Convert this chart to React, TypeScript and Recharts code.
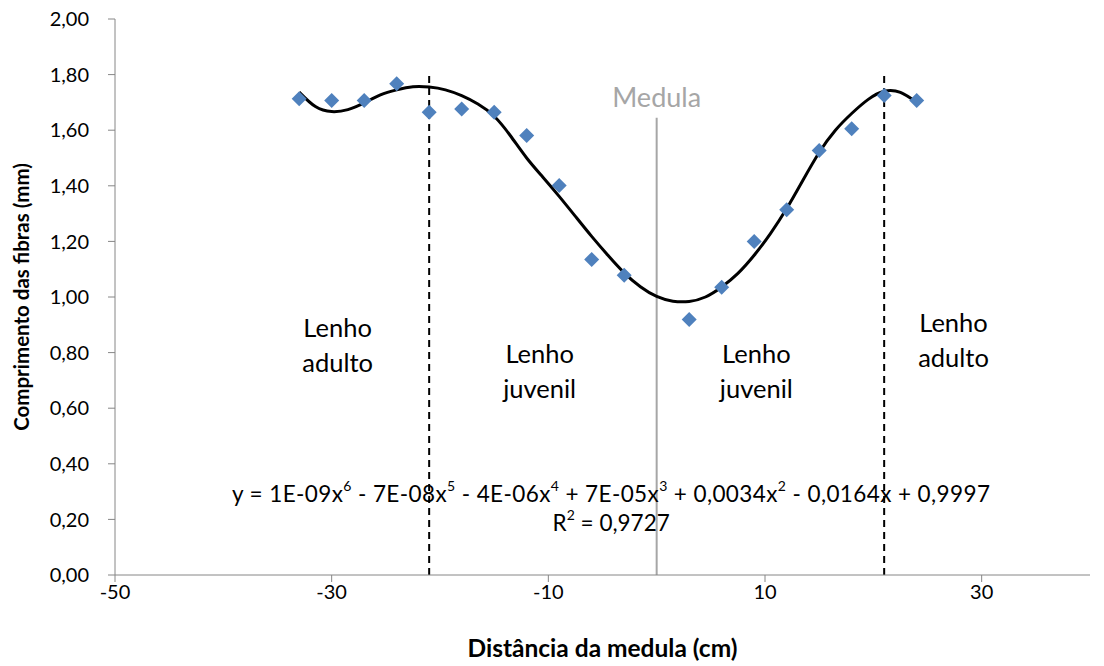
import { ComposedChart, Scatter, Line, XAxis, YAxis, ReferenceLine, ReferenceDot } from "recharts"

// distance from pith (cm) and fibre length (mm)
const distance = [-33, -30, -27, -24, -21, -18, -15, -12, -9, -6, -3, 3, 6, 9, 12, 15, 18, 21, 24]
const fiberLength = [1.713, 1.707, 1.707, 1.767, 1.665, 1.676, 1.665, 1.581, 1.401, 1.135, 1.078, 0.919, 1.035, 1.2, 1.314, 1.527, 1.605, 1.725, 1.707]

// polynomial trendline
const trendX = [-33, -31.5, -30, -28.5, -27, -25.5, -24, -22.5, -21, -19.5, -18, -16.5, -15, -13.5, -12, -10.5, -9, -7.5, -6, -4.5, -3, -1.5, 0, 1.5, 3, 4.5, 6, 7.5, 9, 10.5, 12, 13.5, 15, 16.5, 18, 19.5, 21, 22.5, 24]
const trendY = [1.737, 1.685, 1.667, 1.674, 1.698, 1.727, 1.745, 1.756, 1.755, 1.745, 1.724, 1.694, 1.65, 1.58, 1.5, 1.431, 1.362, 1.29, 1.218, 1.15, 1.087, 1.037, 1.002, 0.985, 0.984, 1.0, 1.036, 1.085, 1.15, 1.228, 1.318, 1.42, 1.52, 1.6, 1.66, 1.71, 1.74, 1.736, 1.7]

const xTicks = [-50, -30, -10, 10, 30]
const yTicks = [0, 0.2, 0.4, 0.6, 0.8, 1.0, 1.2, 1.4, 1.6, 1.8, 2.0]

const points = distance.map((x, i) => ({ x, y: fiberLength[i] }))
const trend = trendX.map((x, i) => ({ x, y: trendY[i] }))

const font = "Lato, 'Open Sans', sans-serif"
const axisColor = "#868686"
const textColor = "#000"

const Diamond = (props: any) => {
  const { cx, cy } = props
  const r = 7.5
  return <polygon points={`${cx},${cy - r} ${cx + r},${cy} ${cx},${cy + r} ${cx - r},${cy}`} fill="#4F81BD" />
}

const noteLabel = (lines: string[], size: number, gap: number) => (p: any) => {
  const vb = p.viewBox
  const cx = vb.x + vb.width / 2
  const cy = vb.y + vb.height / 2
  const start = cy - ((lines.length - 1) * gap) / 2
  return (
    <text textAnchor="middle" fontFamily={font} fontSize={size} fill={textColor}>
      {lines.map((l, i) => (
        <tspan key={i} x={cx} y={start + i * gap} dominantBaseline="central">
          {l}
        </tspan>
      ))}
    </text>
  )
}

const equationLabel = (p: any) => {
  const vb = p.viewBox
  const cx = vb.x + vb.width / 2
  const cy = vb.y + vb.height / 2
  const sup = (s: string) => (
    <tspan fontSize={14} dy={-8}>
      {s}
    </tspan>
  )
  const back = (s: string) => <tspan dy={8}>{s}</tspan>
  return (
    <g fontFamily={font} fill={textColor}>
      <text x={cx} y={cy} textAnchor="middle" fontSize={22.5} letterSpacing={0.4} dominantBaseline="central">
        y = 1E-09x{sup("6")}
        {back(" - 7E-08x")}
        {sup("5")}
        {back(" - 4E-06x")}
        {sup("4")}
        {back(" + 7E-05x")}
        {sup("3")}
        {back(" + 0,0034x")}
        {sup("2")}
        {back(" - 0,0164x + 0,9997")}
      </text>
      <text x={cx} y={cy + 29} textAnchor="middle" fontSize={22.5} dominantBaseline="central">
        R{sup("2")}
        {back(" = 0,9727")}
      </text>
    </g>
  )
}

export default function App() {
  return (
    <div style={{ position: "absolute", left: 0, top: 0, width: 1104, height: 666, background: "#fff" }}>
      <ComposedChart width={1104} height={666} margin={{ top: 19, right: 14, left: 0, bottom: 0 }}>
        <XAxis
          type="number"
          dataKey="x"
          domain={[-50, 40]}
          ticks={xTicks}
          allowDataOverflow
          stroke={axisColor}
          tickSize={7}
          tickMargin={3}
          tick={{ fill: textColor, fontSize: 20, fontFamily: font }}
          height={91}
          label={{
            content: (p: any) => (
              <text
                x={p.viewBox.x + p.viewBox.width / 2}
                y={p.viewBox.y + 72}
                textAnchor="middle"
                dominantBaseline="central"
                fontFamily={font}
                fontWeight="bold"
                fontSize={24.5}
                fill={textColor}
              >
                Distância da medula (cm)
              </text>
            ),
          }}
        />
        <YAxis
          type="number"
          dataKey="y"
          domain={[0, 2]}
          ticks={yTicks}
          width={115}
          stroke={axisColor}
          tickSize={7}
          tickMargin={19}
          tickFormatter={(v: number) => v.toFixed(2).replace(".", ",")}
          tick={{ fill: textColor, fontSize: 20, fontFamily: font }}
          label={{
            content: (p: any) => {
              const x = 21
              const y = p.viewBox.y + p.viewBox.height / 2
              return (
                <text
                  x={x}
                  y={y}
                  transform={`rotate(-90 ${x} ${y})`}
                  textAnchor="middle"
                  dominantBaseline="central"
                  fontFamily={font}
                  fontWeight="bold"
                  fontSize={20.5}
                  fill={textColor}
                >
                  Comprimento das fibras (mm)
                </text>
              )
            },
          }}
        />
        <ReferenceLine segment={[{ x: 0, y: 0 }, { x: 0, y: 1.645 }]} stroke="#A6A6A6" strokeWidth={2} />
        <ReferenceLine segment={[{ x: -21, y: 0 }, { x: -21, y: 1.8 }]} stroke="#000" strokeWidth={2} strokeDasharray="7 5" />
        <ReferenceLine segment={[{ x: 21, y: 0 }, { x: 21, y: 1.8 }]} stroke="#000" strokeWidth={2} strokeDasharray="7 5" />
        <ReferenceDot
          x={0}
          y={1.72}
          r={0}
          stroke="none"
          fill="none"
          label={(p: any) => (
            <text
              x={p.viewBox.x + p.viewBox.width / 2}
              y={p.viewBox.y + p.viewBox.height / 2}
              textAnchor="middle"
              dominantBaseline="central"
              fontFamily={font}
              fontSize={27}
              fill="#A6A6A6"
            >
              Medula
            </text>
          )}
        />
        <ReferenceDot x={-29.45} y={0.828} r={0} stroke="none" fill="none" label={noteLabel(["Lenho", "adulto"], 25.5, 35)} />
        <ReferenceDot x={-10.8} y={0.736} r={0} stroke="none" fill="none" label={noteLabel(["Lenho", "juvenil"], 25.5, 35)} />
        <ReferenceDot x={9.2} y={0.736} r={0} stroke="none" fill="none" label={noteLabel(["Lenho", "juvenil"], 25.5, 35)} />
        <ReferenceDot x={27.4} y={0.847} r={0} stroke="none" fill="none" label={noteLabel(["Lenho", "adulto"], 25.5, 35)} />
        <ReferenceDot x={-4.2} y={0.294} r={0} stroke="none" fill="none" label={equationLabel} />
        <Scatter data={points} dataKey="y" shape={Diamond} isAnimationActive={false} />
        <Line
          data={trend}
          dataKey="y"
          type="natural"
          stroke="#000"
          strokeWidth={3}
          dot={false}
          activeDot={false}
          isAnimationActive={false}
        />
      </ComposedChart>
    </div>
  )
}
